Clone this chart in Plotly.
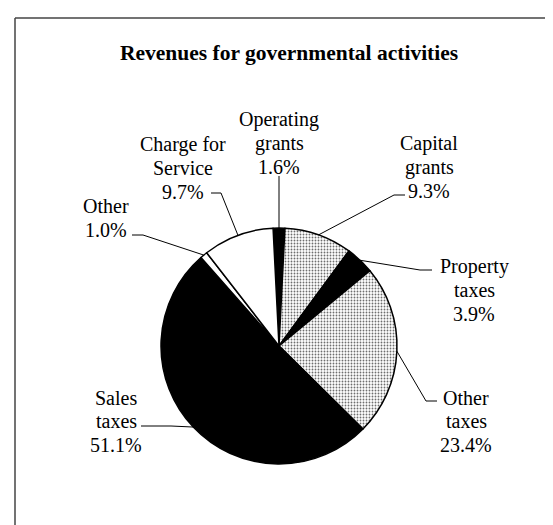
import math
import plotly.graph_objects as go

# Data
labels = ["Operating grants", "Capital grants", "Property taxes", "Other taxes",
          "Sales taxes", "Other", "Charge for Service"]
label_lines = [["Operating", "grants"], ["Capital", "grants"], ["Property", "taxes"],
               ["Other", "taxes"], ["Sales", "taxes"], ["Other"], ["Charge for", "Service"]]
values = [1.6, 9.3, 3.9, 23.4, 51.1, 1.0, 9.7]
slice_colors = ["#000000", "#bcbcbc", "#000000", "#bcbcbc", "#000000", "#ffffff", "#ffffff"]
slice_patterns = ["", ".", "", ".", "", "", ""]

W, H = 553, 525
CX, CY, R = 271, 338, 118  # pie centre / radius in px
LINE_GAP = 23.5

# label block centres and leader elbows (px)
label_pos = [(271, 135), (421, 159), (466, 282), (458, 413), (108, 413), (98, 210), (175, 160)]
leader_pts = [
    [(271, 168)],
    [(386, 187), (397, 187)],
    [(412, 262), (424, 262)],
    [(418, 393), (429, 393)],
    [(163, 418), (133, 418)],
    [(135, 227), (124, 227)],
    [(213, 185), (203, 185)],
]


def px(x, y):
    return x / W, 1 - y / H


total = sum(values)
rotation = -values[0] / total * 360 / 2

fig = go.Figure()
fig.add_trace(
    go.Pie(
        labels=labels,
        values=values,
        sort=False,
        direction="clockwise",
        rotation=rotation,
        textinfo="none",
        hoverinfo="label+percent",
        marker=dict(
            colors=slice_colors,
            line=dict(color="#000000", width=1.5),
            pattern=dict(shape=slice_patterns, fgcolor="#6e6e6e", size=3, solidity=0.3),
        ),
        domain=dict(
            x=[(CX - R) / W, (CX + R) / W],
            y=[(H - CY - R) / H, (H - CY + R) / H],
        ),
        showlegend=False,
    )
)

shapes = []
annotations = []
cum = 0
for i, v in enumerate(values):
    mid = math.radians(rotation + (cum + v / 2) / total * 360)
    cum += v
    ax = CX + R * math.sin(mid)
    ay = CY - R * math.cos(mid)
    pts = [(ax, ay)] + leader_pts[i]
    path = "M " + " L ".join(f"{px(x, y)[0]},{px(x, y)[1]}" for x, y in pts)
    shapes.append(dict(type="path", xref="paper", yref="paper", path=path,
                       line=dict(color="#000000", width=1)))
    lines = label_lines[i] + [f"{v:.1f}%"]
    cx, cy = label_pos[i]
    for j, line in enumerate(lines):
        tx, ty = px(cx, cy + (j - (len(lines) - 1) / 2) * LINE_GAP)
        annotations.append(dict(
            x=tx, y=ty, xref="paper", yref="paper", xanchor="center", yanchor="middle",
            text=line, showarrow=False,
            font=dict(family="Liberation Serif", size=20, color="#000000"),
        ))

annotations.append(dict(
    x=px(281, 45)[0], y=px(281, 45)[1], xref="paper", yref="paper",
    xanchor="center", yanchor="middle", showarrow=False,
    text="<b>Revenues for governmental activities</b>",
    font=dict(family="Liberation Serif", size=21.5, color="#000000"),
))

# frame
shapes.append(dict(type="line", xref="paper", yref="paper", x0=px(7, 10)[0], y0=px(7, 10)[1],
                   x1=1, y1=px(7, 10)[1], line=dict(color="#444444", width=1.5)))
shapes.append(dict(type="line", xref="paper", yref="paper", x0=px(7, 10)[0], y0=px(7, 10)[1],
                   x1=px(7, 10)[0], y1=0, line=dict(color="#444444", width=1.5)))

fig.update_layout(
    width=W, height=H, autosize=False,
    margin=dict(l=0, r=0, t=0, b=0),
    paper_bgcolor="#ffffff", plot_bgcolor="#ffffff",
    shapes=shapes, annotations=annotations,
)

fig.write_html("out.html")
